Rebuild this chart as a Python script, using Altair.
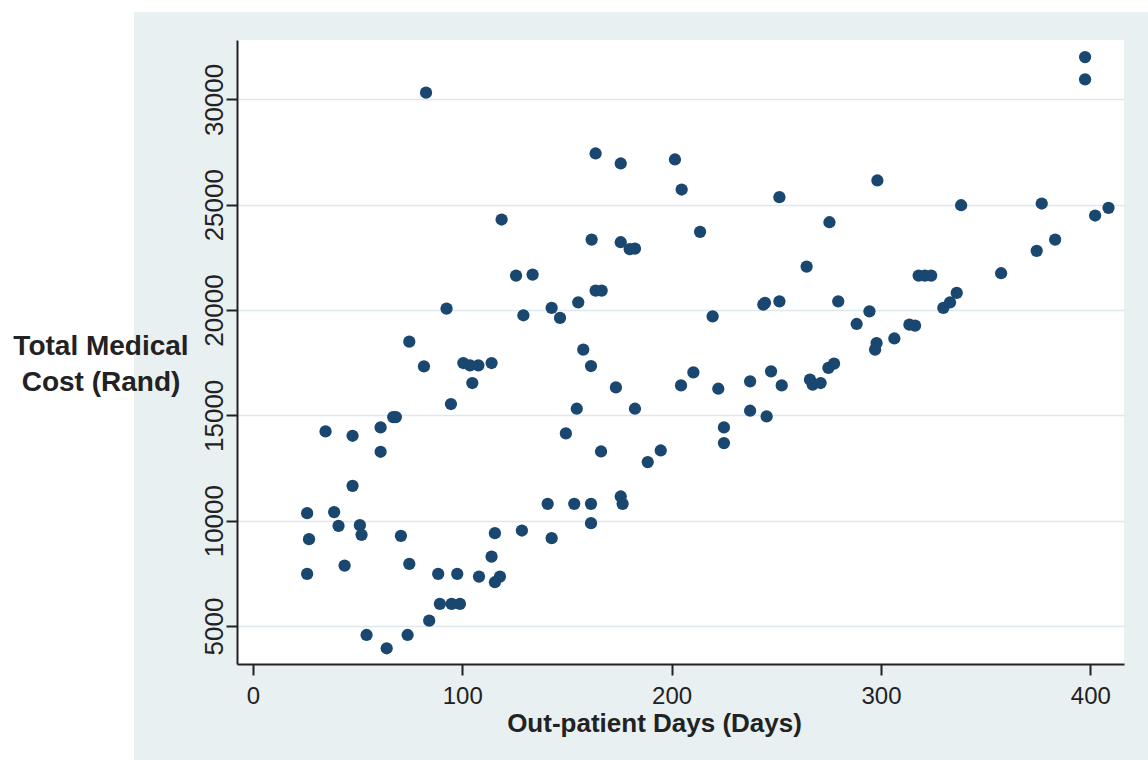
import altair as alt
import pandas as pd

# Out-patient days (x) and total medical cost in Rand (y)
x_days = [82.7, 163.7, 175.7, 118.8, 161.8, 175.7, 180.0, 182.5, 125.7, 133.6,
          163.7, 166.6, 92.5, 129.2, 142.7, 146.7, 155.4, 397.5, 397.5, 201.6,
          204.8, 298.3, 251.5, 338.3, 376.8, 408.7, 402.3, 213.6, 275.4, 383.2,
          374.4, 264.5, 357.4, 318.0, 321.0, 324.0, 219.6, 243.8, 244.6, 251.5,
          279.6, 294.5, 288.4, 313.6, 316.3, 329.8, 333.0, 336.2, 74.7, 81.7,
          100.5, 103.7, 107.7, 114.0, 104.8, 94.6, 157.8, 161.5, 173.4, 154.7,
          149.5, 166.3, 34.7, 47.6, 61.0, 67.0, 68.3, 61.0, 47.6, 25.9,
          38.8, 40.9, 51.1, 51.9, 26.8, 25.9, 43.8, 70.7, 74.7, 54.3,
          63.9, 73.9, 84.2, 88.5, 97.6, 108.0, 115.6, 118.0, 89.3, 94.9,
          98.9, 114.0, 115.6, 128.5, 140.8, 142.7, 153.5, 161.5, 161.5, 175.7,
          176.6, 182.5, 297.9, 297.2, 306.4, 274.9, 277.6, 266.1, 267.4, 271.2,
          204.5, 210.4, 222.3, 237.5, 247.5, 252.6, 237.5, 245.4, 225.0, 225.0,
          188.6, 194.8]
y_cost = [30318, 27433, 26958, 24297, 23346, 23218, 22890, 22918, 21635, 21683,
          20922, 20922, 20067, 19750, 20100, 19625, 20366, 32010, 30951, 27148,
          25722, 26150, 25357, 24976, 25057, 24852, 24487, 23712, 24168, 23346,
          22809, 22063, 21747, 21635, 21635, 21635, 19700, 20257, 20336, 20414,
          20414, 19938, 19338, 19306, 19259, 20100, 20366, 20813, 18498, 17326,
          17484, 17373, 17373, 17484, 16535, 15537, 18118, 17342, 16327, 15313,
          14140, 13284, 14236, 14030, 14426, 14918, 14918, 13270, 11654, 10357,
          10405, 9753, 9785, 9325, 9120, 7471, 7866, 9278, 7947, 4572,
          3940, 4572, 5252, 7471, 7471, 7343, 7076, 7343, 6046, 6046,
          6046, 8294, 9405, 9532, 10798, 9167, 10798, 10798, 9880, 11147,
          10798, 15313, 18431, 18118, 18650, 17250, 17452, 16692, 16454, 16535,
          16422, 17041, 16264, 16613, 17089, 16422, 15218, 14948, 14426, 13684,
          12781, 13332]

x_ticks = [0, 100, 200, 300, 400]
y_ticks = [5000, 10000, 15000, 20000, 25000, 30000]
x_title = "Out-patient Days (Days)"
y_title = ["Total Medical", "Cost (Rand)"]

df = pd.DataFrame({"days": x_days, "cost": y_cost})

FONT = "Liberation Sans"
BG = "#e8f0f2"
INK = "#222222"

blank = alt.Data(values=[{}])

# white strips outside the Stata-style bluish graph region
left_strip = alt.Chart(blank).mark_rect(color="white").encode(
    x=alt.value(-237), x2=alt.value(-103), y=alt.value(-40), y2=alt.value(720)
)
top_strip = alt.Chart(blank).mark_rect(color="white").encode(
    x=alt.value(-103), x2=alt.value(911), y=alt.value(-40), y2=alt.value(-28)
)

points = alt.Chart(df).mark_circle(size=150, opacity=1, color="#1a476f").encode(
    x=alt.X("days:Q",
            scale=alt.Scale(domain=[-7.6, 416.1], nice=False, zero=False),
            axis=alt.Axis(values=x_ticks, title=x_title, grid=False, format="d",
                          labelFontSize=24, labelPadding=9, labelColor=INK,
                          titleFontSize=26, titleFontWeight="bold", titleColor=INK,
                          titleX=417, titleY=67, titleAlign="center",
                          titleBaseline="alphabetic", titleAnchor="start")),
    y=alt.Y("cost:Q",
            scale=alt.Scale(domain=[3194, 32820], nice=False, zero=False),
            axis=alt.Axis(values=y_ticks, title=None, grid=True, format="d",
                          gridColor="#dde8ec", gridWidth=1.5,
                          labelAngle=270, labelAlign="center",
                          labelBaseline="alphabetic", labelPadding=4,
                          labelFontSize=26, labelColor=INK)),
)

ytitle = alt.Chart(blank).mark_text(
    text=y_title, font=FONT, fontSize=28, fontWeight="bold", color=INK,
    align="center", baseline="alphabetic", lineHeight=36
).encode(x=alt.value(-136), y=alt.value(315))

chart = alt.layer(left_strip, top_strip, points, ytitle).properties(
    width=887, height=624, background=BG,
    padding={"left": 237, "top": 40, "right": 24, "bottom": 96},
    autosize=alt.AutoSizeParams(type="none"),
).configure_view(fill="white", stroke=None).configure_axis(
    labelFont=FONT, titleFont=FONT, domainColor=INK, domainWidth=2,
    tickColor=INK, tickWidth=2, tickSize=11,
)

chart.save("out.html", embed_options={"renderer": "svg", "actions": False})
